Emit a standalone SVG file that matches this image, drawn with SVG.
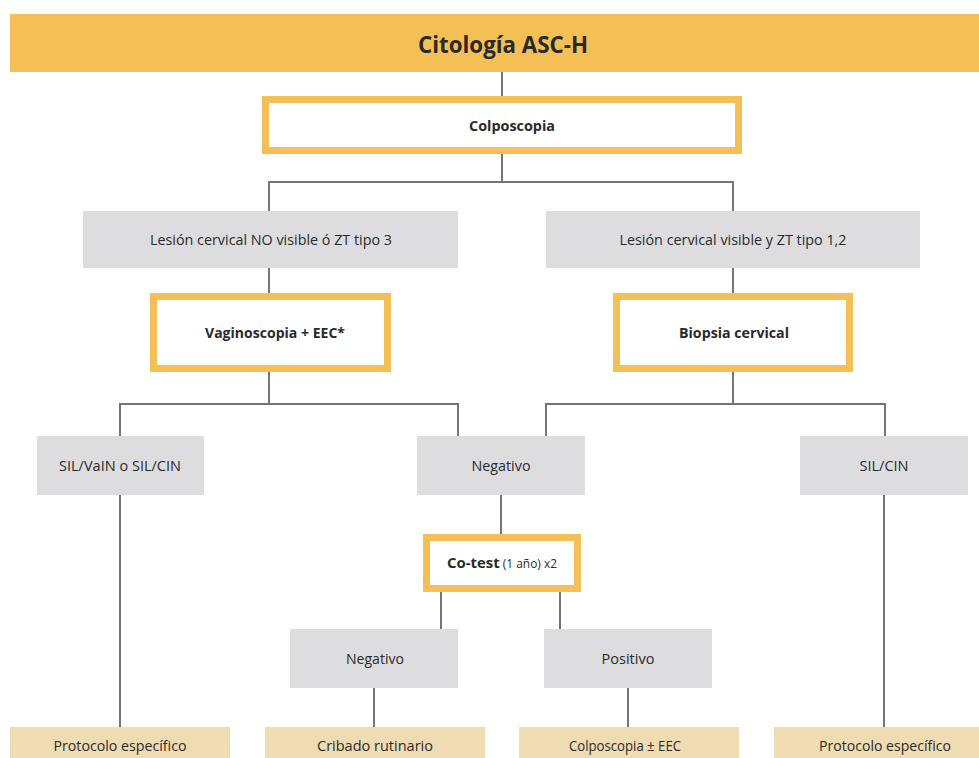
<svg xmlns="http://www.w3.org/2000/svg" width="979" height="758" viewBox="0 0 979 758">
<style>
.bg{fill:#ffffff}
.title{fill:#F4BF55}
.hl{fill:#ffffff;stroke:#F4BF55;stroke-width:7}
.gray{fill:#DDDDDF}
.tan{fill:#F0DCB3}
.conn{fill:none;stroke:#757575;stroke-width:2}
text{font-family:"Open Sans","DejaVu Sans",sans-serif;fill:#2a2a2a;text-anchor:middle}
.t{font-size:24px;font-weight:bold}
.b{font-size:15px;font-weight:bold}
.n{font-size:15px}
.s{font-size:12px;font-weight:normal}
</style>
<rect class="bg" x="0" y="0" width="979" height="758"/>
<g id="connectors">
<path class="conn" d="M502 72V96"/>
<path class="conn" d="M502 154V182M269 211V182H733V211"/>
<path class="conn" d="M269 268V293"/>
<path class="conn" d="M733 268V293"/>
<path class="conn" d="M269 372V404M120 436V404H458V436"/>
<path class="conn" d="M733 372V404M546 436V404H885V436"/>
<path class="conn" d="M120 495V728"/>
<path class="conn" d="M884 495V728"/>
<path class="conn" d="M501 495V534"/>
<path class="conn" d="M441 592V629"/>
<path class="conn" d="M560 592V629"/>
<path class="conn" d="M374 688V728"/>
<path class="conn" d="M628 688V728"/>
</g>
<g id="n-title">
<rect class="title" x="10" y="14" width="969" height="58"/>
<text class="t" x="503" y="53" textLength="170" lengthAdjust="spacingAndGlyphs">Citología ASC-H</text>
</g>
<g id="n-colposcopia">
<rect class="hl" x="265.5" y="99.5" width="473" height="51"/>
<text class="b" x="512" y="131" textLength="86" lengthAdjust="spacingAndGlyphs">Colposcopia</text>
</g>
<g id="n-no-visible">
<rect class="gray" x="83" y="211" width="375" height="57"/>
<text class="n" x="271" y="245" textLength="242" lengthAdjust="spacingAndGlyphs">Lesión cervical NO visible ó ZT tipo 3</text>
</g>
<g id="n-visible">
<rect class="gray" x="546" y="211" width="374" height="57"/>
<text class="n" x="733" y="245" textLength="227" lengthAdjust="spacingAndGlyphs">Lesión cervical visible y ZT tipo 1,2</text>
</g>
<g id="n-vaginoscopia">
<rect class="hl" x="153.5" y="296.5" width="234" height="72"/>
<text class="b" x="275" y="338" textLength="140" lengthAdjust="spacingAndGlyphs">Vaginoscopia + EEC*</text>
</g>
<g id="n-biopsia">
<rect class="hl" x="616.5" y="296.5" width="233" height="72"/>
<text class="b" x="734" y="338" textLength="110" lengthAdjust="spacingAndGlyphs">Biopsia cervical</text>
</g>
<g id="n-silvain">
<rect class="gray" x="37" y="436" width="167" height="59"/>
<text class="n" x="120" y="471" textLength="122" lengthAdjust="spacingAndGlyphs">SIL/VaIN o SIL/CIN</text>
</g>
<g id="n-negativo1">
<rect class="gray" x="417" y="436" width="168" height="59"/>
<text class="n" x="501" y="471" textLength="59" lengthAdjust="spacingAndGlyphs">Negativo</text>
</g>
<g id="n-silcin">
<rect class="gray" x="800" y="436" width="168" height="59"/>
<text class="n" x="884" y="471" textLength="49" lengthAdjust="spacingAndGlyphs">SIL/CIN</text>
</g>
<g id="n-cotest">
<rect class="hl" x="426.5" y="537.5" width="151" height="51"/>
<text class="b" x="502" y="568" textLength="110" lengthAdjust="spacingAndGlyphs">Co-test<tspan class="s"> (1 año) x2</tspan></text>
</g>
<g id="n-negativo2">
<rect class="gray" x="290" y="629" width="168" height="59"/>
<text class="n" x="375" y="664" textLength="58" lengthAdjust="spacingAndGlyphs">Negativo</text>
</g>
<g id="n-positivo">
<rect class="gray" x="544" y="629" width="168" height="59"/>
<text class="n" x="628" y="664" textLength="53" lengthAdjust="spacingAndGlyphs">Positivo</text>
</g>
<g id="n-protocolo1">
<rect class="tan" x="10" y="727" width="220" height="31"/>
<text class="n" x="120" y="751" textLength="133" lengthAdjust="spacingAndGlyphs">Protocolo específico</text>
</g>
<g id="n-cribado">
<rect class="tan" x="265" y="727" width="220" height="31"/>
<text class="n" x="375" y="751" textLength="116" lengthAdjust="spacingAndGlyphs">Cribado rutinario</text>
</g>
<g id="n-colposcopia-eec">
<rect class="tan" x="519" y="727" width="220" height="31"/>
<text class="n" x="625" y="751" textLength="112" lengthAdjust="spacingAndGlyphs">Colposcopia ± EEC</text>
</g>
<g id="n-protocolo2">
<rect class="tan" x="774" y="727" width="205" height="31"/>
<text class="n" x="885" y="751" textLength="132" lengthAdjust="spacingAndGlyphs">Protocolo específico</text>
</g>
</svg>
